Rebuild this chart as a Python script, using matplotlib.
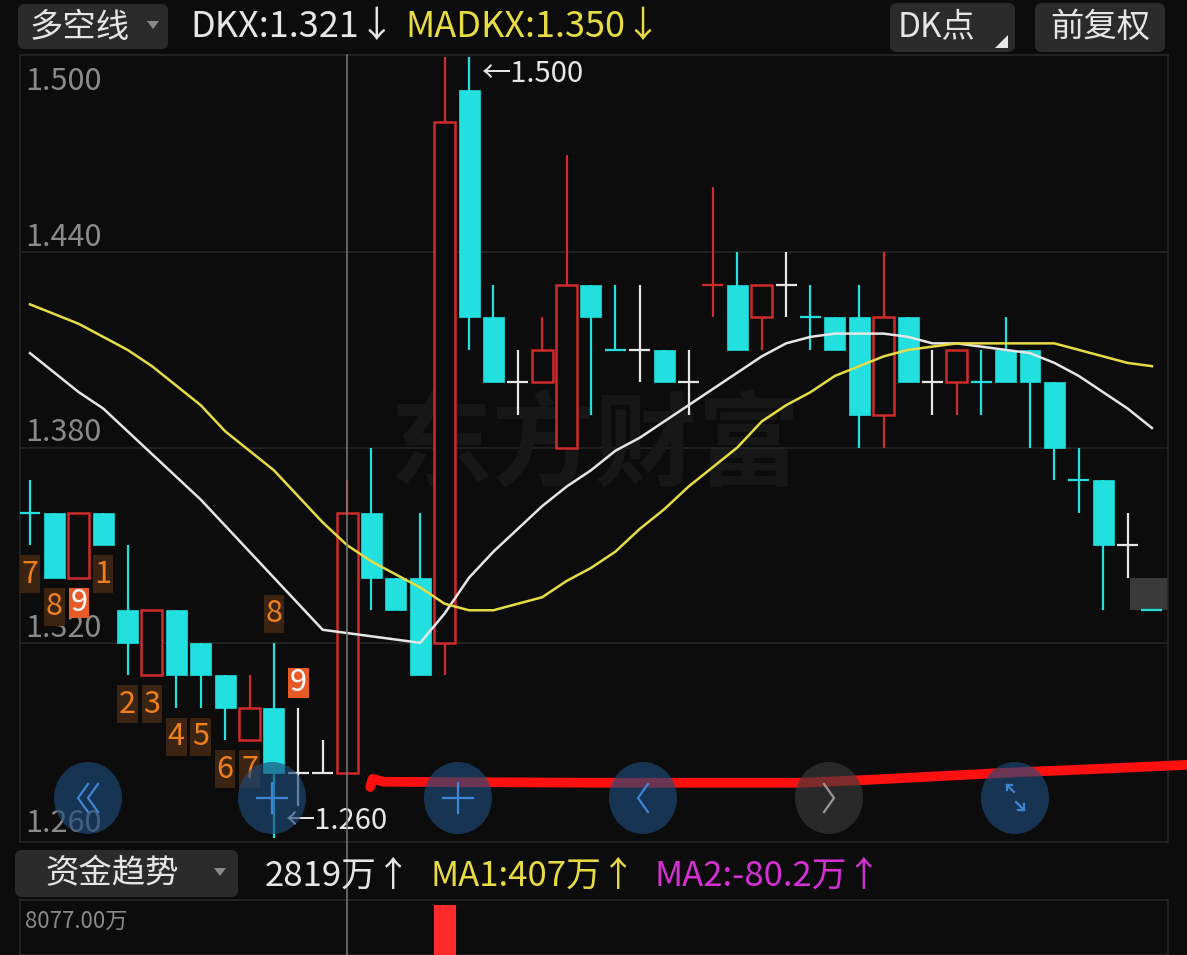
import matplotlib
matplotlib.use("Agg")
import matplotlib.pyplot as plt
from matplotlib.patches import Rectangle, FancyBboxPatch, Ellipse, Polygon
from matplotlib.transforms import blended_transform_factory

plt.rcParams["font.family"] = ["Noto Sans CJK SC", "DejaVu Sans"]

W, H = 1187, 955
BG = "#0c0c0c"
RED = "#d02a2a"
CYAN = "#22dfe0"
WHITE = "#e6e6e6"
YELLOW = "#e8dc45"
MAGENTA = "#d430d4"
GRID = "#262626"

# ---- price bars ----
opens  = [1.36, 1.36, 1.34, 1.36, 1.33, 1.31, 1.33, 1.32, 1.31, 1.29, 1.30, 1.28,
          1.28, 1.28, 1.36, 1.34, 1.34, 1.32, 1.49, 1.42, 1.40, 1.40, 1.38, 1.43,
          1.41, 1.41, 1.41, 1.40, 1.43, 1.43, 1.42, 1.43, 1.42, 1.42, 1.42, 1.39,
          1.42, 1.40, 1.40, 1.40, 1.41, 1.41, 1.40, 1.37, 1.37, 1.35, 1.33]
highs  = [1.37, 1.36, 1.36, 1.36, 1.35, 1.33, 1.33, 1.32, 1.31, 1.31, 1.32, 1.30,
          1.29, 1.37, 1.38, 1.34, 1.36, 1.50, 1.50, 1.43, 1.41, 1.42, 1.47, 1.43,
          1.43, 1.43, 1.41, 1.41, 1.46, 1.44, 1.43, 1.44, 1.43, 1.42, 1.43, 1.44,
          1.42, 1.41, 1.41, 1.41, 1.42, 1.41, 1.40, 1.38, 1.37, 1.36, 1.33]
lows   = [1.35, 1.34, 1.34, 1.35, 1.31, 1.31, 1.30, 1.30, 1.29, 1.29, 1.26, 1.27,
          1.28, 1.28, 1.33, 1.33, 1.31, 1.31, 1.41, 1.40, 1.39, 1.40, 1.38, 1.39,
          1.41, 1.40, 1.40, 1.39, 1.42, 1.41, 1.41, 1.42, 1.41, 1.41, 1.38, 1.38,
          1.40, 1.39, 1.39, 1.39, 1.40, 1.38, 1.37, 1.36, 1.33, 1.34, 1.33]
closes = [1.36, 1.34, 1.36, 1.35, 1.32, 1.33, 1.31, 1.31, 1.30, 1.30, 1.28, 1.28,
          1.28, 1.36, 1.34, 1.33, 1.31, 1.48, 1.42, 1.40, 1.40, 1.41, 1.43, 1.42,
          1.41, 1.41, 1.40, 1.40, 1.43, 1.41, 1.43, 1.43, 1.42, 1.41, 1.39, 1.42,
          1.40, 1.40, 1.41, 1.40, 1.40, 1.40, 1.38, 1.37, 1.35, 1.35, 1.33]
prev_close = 1.37

dkx   = [1.409, 1.403, 1.397, 1.392, 1.385, 1.378, 1.371, 1.364, 1.356, 1.348,
         1.340, 1.332, 1.324, 1.323, 1.322, 1.321, 1.320, 1.329, 1.340, 1.348,
         1.355, 1.362, 1.368, 1.373, 1.379, 1.383, 1.388, 1.393, 1.398, 1.403,
         1.408, 1.412, 1.414, 1.415, 1.415, 1.415, 1.414, 1.412, 1.412, 1.411,
         1.410, 1.409, 1.406, 1.402, 1.397, 1.392, 1.386]
madkx = [1.424, 1.421, 1.418, 1.414, 1.410, 1.405, 1.399, 1.393, 1.385, 1.379,
         1.373, 1.365, 1.357, 1.350, 1.345, 1.341, 1.337, 1.332, 1.330, 1.330,
         1.332, 1.334, 1.339, 1.343, 1.348, 1.355, 1.361, 1.368, 1.374, 1.380,
         1.388, 1.393, 1.397, 1.402, 1.405, 1.408, 1.410, 1.411, 1.412, 1.412,
         1.412, 1.412, 1.412, 1.410, 1.408, 1.406, 1.405]

# TD sequential counts
td_index = [0, 1, 2, 3, 4, 5, 6, 7, 8, 9, 10, 11]
td_text  = ["7", "8", "9", "1", "2", "3", "4", "5", "6", "7", "8", "9"]
td_above = [False] * 10 + [True, True]

y_ticks = [1.500, 1.440, 1.380, 1.320, 1.260]
max_bar, min_bar = 18, 10
cursor_bar = 13

# hand-drawn red mark (bar index, price)
mark_x = [13.95, 14.05, 14.5, 23.4, 31.6, 34.4, 39.8, 43.9, 47.45]
mark_y = [1.2757, 1.2782, 1.2773, 1.2770, 1.2770, 1.2779, 1.2800, 1.2813, 1.2825]

# fund-flow panel
flow_index = [17]
flow_value = [8077]

dkx_now, madkx_now = "1.321", "1.350"
fund_now, ma1_now, ma2_now = "2819万", "407万", "-80.2万"


def fig_rect(l, t, r, b):
    return [l / W, 1 - b / H, (r - l) / W, (b - t) / H]


fig = plt.figure(figsize=(W / 100, H / 100), dpi=100)
fig.patch.set_facecolor(BG)

# ---- main candle panel ----
ax = fig.add_axes(fig_rect(20, 55, 1168, 842))
ax.set_facecolor(BG)
step = 24.39
ax.set_xlim(-10 / step, 1138 / step)
ax.set_ylim(1.2588, 1.5006)
ax.set_xticks([])
ax.set_yticks([])
for s in ax.spines.values():
    s.set_color(GRID)
    s.set_linewidth(1.2)
for t in y_ticks[1:-1]:
    ax.axhline(t, color=GRID, lw=1.2, zorder=0)

ppu = 787 / (1.5006 - 1.2588)  # pixels per price unit
bw = 0.86

tr_lbl = blended_transform_factory(ax.transAxes, ax.transData)
for t in y_ticks:
    dy = -24 if t == y_ticks[0] else 4.5
    ax.annotate(f"{t:.3f}", (0, t), xycoords=tr_lbl, xytext=(4, dy),
                textcoords="offset points", va="baseline", ha="left",
                color="#8a8a8a", fontsize=22, zorder=1)

last_c = prev_close
for i, (o, h, l, c) in enumerate(zip(opens, highs, lows, closes)):
    if c > o or (c == o and c > last_c):
        col = RED
    elif c < o or (c == o and c < last_c):
        col = CYAN
    else:
        col = WHITE
    last_c = c
    ax.vlines(i, l, h, color=col, lw=1.6, zorder=3)
    if c == o:
        ax.hlines(o, i - bw / 2, i + bw / 2, color=col, lw=1.6, zorder=3)
    elif c > o:
        ax.add_patch(Rectangle((i - bw / 2, o), bw, c - o, fc=BG, ec=col,
                               lw=1.8, zorder=4))
    else:
        ax.add_patch(Rectangle((i - bw / 2, c), bw, o - c, fc=col, ec=col,
                               lw=0.5, zorder=4))

# last-price tag behind the final bar
ax.add_patch(Rectangle((len(closes) - 1 - 0.9, closes[-1]), 2, 0.01,
                       fc="#3a3a3a", ec="none", zorder=2))

ax.plot(range(len(dkx)), dkx, color=WHITE, lw=1.8, zorder=5,
        solid_joinstyle="round")
ax.plot(range(len(madkx)), madkx, color=YELLOW, lw=1.8, zorder=5,
        solid_joinstyle="round")

# TD labels
for idx, txt, up in zip(td_index, td_text, td_above):
    hi9 = txt == "9"
    fc = "#e85a28" if hi9 else "#3b2412"
    tc = "white" if hi9 else "#f0801e"
    bh = (30 if hi9 else 38) / ppu
    gap = 10 / ppu
    if up:
        y0 = highs[idx] + gap
    else:
        y0 = lows[idx] - gap - bh
    ax.add_patch(Rectangle((idx - 0.42, y0), 0.84, bh, fc=fc, ec="none", zorder=6))
    ax.text(idx, y0 + bh / 2, txt, color=tc, fontsize=22, ha="center",
            va="center", zorder=7)

ax.annotate("←1.500", (max_bar, highs[max_bar]), xytext=(9, -12),
            textcoords="offset points", ha="left", va="center",
            color=WHITE, fontsize=21, zorder=7)
ax.annotate("←1.260", (min_bar, lows[min_bar]), xytext=(9, 12),
            textcoords="offset points", ha="left", va="center",
            color=WHITE, fontsize=21, zorder=7)

ax.plot(mark_x, mark_y, color="#ff1010", lw=7, solid_capstyle="round",
        solid_joinstyle="round", zorder=9, clip_on=False)

# ---- lower fund-flow panel ----
ax2 = fig.add_axes(fig_rect(20, 900, 1168, 955))
ax2.set_facecolor(BG)
ax2.set_xlim(ax.get_xlim())
lo = 7000
hi = (55 * 8077 - 5 * lo) / 50
ax2.set_ylim(lo, hi)
ax2.set_xticks([])
ax2.set_yticks([])
for s in ax2.spines.values():
    s.set_color(GRID)
    s.set_linewidth(1.2)
ax2.bar(flow_index, flow_value, width=0.9, color="#ff2a2a", zorder=3)
ax2.text(0.004, 0.62, "8077.00万", transform=ax2.transAxes, color="#8a8a8a",
         fontsize=16, va="center", ha="left")

# ---- UI overlay in pixel coordinates ----
ui = fig.add_axes([0, 0, 1, 1])
ui.set_xlim(0, W)
ui.set_ylim(H, 0)
ui.axis("off")
ui.patch.set_alpha(0)
ui.set_zorder(10)

ax.text(595, 448, "东方财富", transform=ui.transData, color="#171717",
        fontsize=74, fontweight="bold", ha="center", va="center", zorder=1)

# vertical cursor line through both panels
ui.plot([30 + step * cursor_bar] * 2, [55, H], color="#7a7a7a", lw=1.1, zorder=1)


def button(l, t, r, b):
    ui.add_patch(FancyBboxPatch((l, t), r - l, b - t,
                                boxstyle="round,pad=0,rounding_size=7",
                                fc="#2b2b2b", ec="none"))


button(18, 4, 168, 49)
ui.text(30, 27, "多空线", color=WHITE, fontsize=24, va="center", ha="left")
ui.add_patch(Polygon([[147, 21], [159, 21], [153, 29]], fc="#8a8a8a", ec="none"))
ui.text(190, 27, f"DKX:{dkx_now}↓", color=WHITE, fontsize=26, va="center", ha="left")
ui.text(405, 27, f"MADKX:{madkx_now}↓", color=YELLOW, fontsize=26,
        va="center", ha="left")
button(890, 3, 1015, 52)
ui.text(898, 27, "DK点", color=WHITE, fontsize=24, va="center", ha="left")
ui.add_patch(Polygon([[995, 48], [1008, 48], [1008, 35]], fc=WHITE, ec="none"))
button(1035, 3, 1165, 52)
ui.text(1100, 27, "前复权", color=WHITE, fontsize=24, va="center", ha="center")

button(15, 850, 238, 897)
ui.text(45, 874, "资金趋势", color=WHITE, fontsize=24, va="center", ha="left")
ui.add_patch(Polygon([[214, 868], [226, 868], [220, 876]], fc="#8a8a8a", ec="none"))
ui.text(265, 876, f"{fund_now}↑", color=WHITE, fontsize=25, va="center", ha="left")
ui.text(430, 876, f"MA1:{ma1_now}↑", color=YELLOW, fontsize=25, va="center", ha="left")
ui.text(655, 876, f"MA2:{ma2_now}↑", color=MAGENTA, fontsize=25, va="center",
        ha="left")

# navigation buttons
nav_x = [88, 272, 458, 643, 829, 1015]
ICON = "#3f86d8"
for k, cx in enumerate(nav_x):
    fc = "#3a3a3a" if k == 4 else "#1f4a7a"
    ui.add_patch(Ellipse((cx, 798), 68, 72, fc=fc, ec="none", alpha=0.65, zorder=2))
cy = 798
# «
for dx in (-6, 4):
    ui.plot([88 + dx + 6, 88 + dx - 4, 88 + dx + 6], [cy - 14, cy, cy + 14],
            color=ICON, lw=1.6, zorder=3)
# +
for cx in (272, 458):
    ui.plot([cx - 15, cx + 15], [cy, cy], color=ICON, lw=1.6, zorder=3)
    ui.plot([cx, cx], [cy - 15, cy + 15], color=ICON, lw=1.6, zorder=3)
# < and >
ui.plot([648, 638, 648], [cy - 14, cy, cy + 14], color=ICON, lw=1.6, zorder=3)
ui.plot([824, 834, 824], [cy - 14, cy, cy + 14], color="#9a9a9a", lw=1.6, zorder=3)
# expand arrows
ui.plot([1007, 1014], [785, 792], color=ICON, lw=1.6, zorder=3)
ui.plot([1007, 1007, 1012], [790, 785, 785], color=ICON, lw=1.6, zorder=3)
ui.plot([1016, 1024], [802, 810], color=ICON, lw=1.6, zorder=3)
ui.plot([1024, 1024, 1018], [804, 810, 810], color=ICON, lw=1.6, zorder=3)

fig.savefig("out.png", dpi=100, facecolor=BG)
